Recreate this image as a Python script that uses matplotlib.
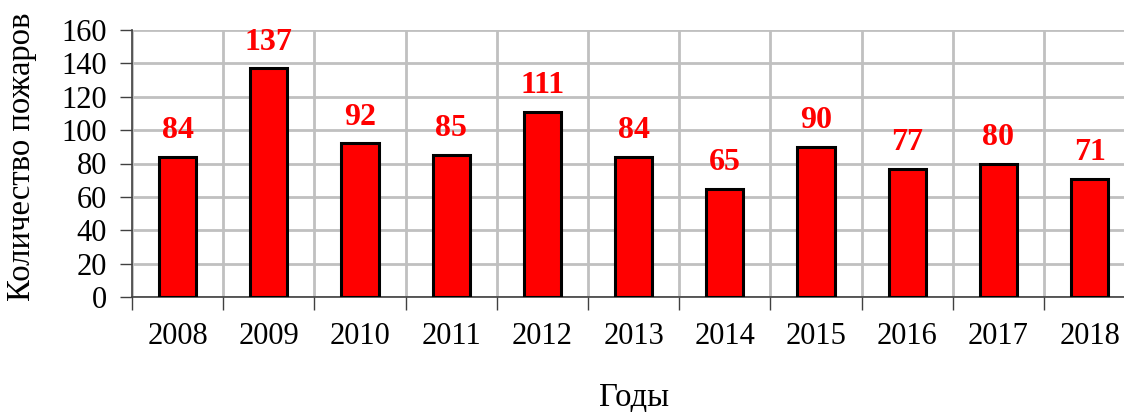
import numpy as np
import matplotlib
matplotlib.use('Agg')
import matplotlib.pyplot as plt

plt.rcParams['font.family'] = ['Liberation Serif', 'DejaVu Serif']

# Данные
годы = ['2008', '2009', '2010', '2011', '2012', '2013', '2014', '2015', '2016', '2017', '2018']
пожары = [84, 137, 92, 85, 111, 84, 65, 90, 77, 80, 71]

fig = plt.figure(figsize=(11.24, 4.12), dpi=100)
ax = fig.add_axes([132 / 1124, 1 - 297 / 412, 11 * 91.2 / 1124, 267 / 412])

x = np.arange(len(годы))
ax.bar(x, пожары, width=0.41, color='#ff0000', edgecolor='black', linewidth=2.2, zorder=3)

for xi, v in zip(x, пожары):
    ax.text(xi, v + 7, str(v), ha='center', va='bottom', color='#ff0000',
            fontsize=23, fontweight='bold', zorder=4)

ax.set_xlim(-0.5, len(годы) - 0.5)
ax.set_ylim(0, 160)
ax.set_yticks(range(0, 161, 20))
ax.set_xticks(x)
ax.set_xticklabels(годы)
ax.set_xticks(np.arange(-0.5, len(годы), 1), minor=True)

ax.tick_params(axis='x', which='major', length=0, labelsize=22, pad=18)
ax.tick_params(axis='x', which='minor', length=9, width=1, color='#404040')
ax.tick_params(axis='y', length=9, width=1, color='#404040', labelsize=22, pad=9)

ax.grid(axis='y', which='major', color='#c0c0c0', linewidth=2, zorder=0)
ax.grid(axis='x', which='minor', color='#c0c0c0', linewidth=2, zorder=0)
ax.set_axisbelow(True)

for s in ['top', 'right']:
    ax.spines[s].set_visible(False)
ax.spines['left'].set_color('#404040')
ax.spines['bottom'].set_color('#404040')
ax.spines['left'].set_linewidth(1.2)
ax.spines['bottom'].set_linewidth(1.2)

ax.set_ylabel('Количество пожаров', fontsize=23.5)
ax.yaxis.set_label_coords(-0.095, 0.524)
ax.set_xlabel('Годы', fontsize=23.5, labelpad=22)

fig.savefig('out.png', dpi=100)
